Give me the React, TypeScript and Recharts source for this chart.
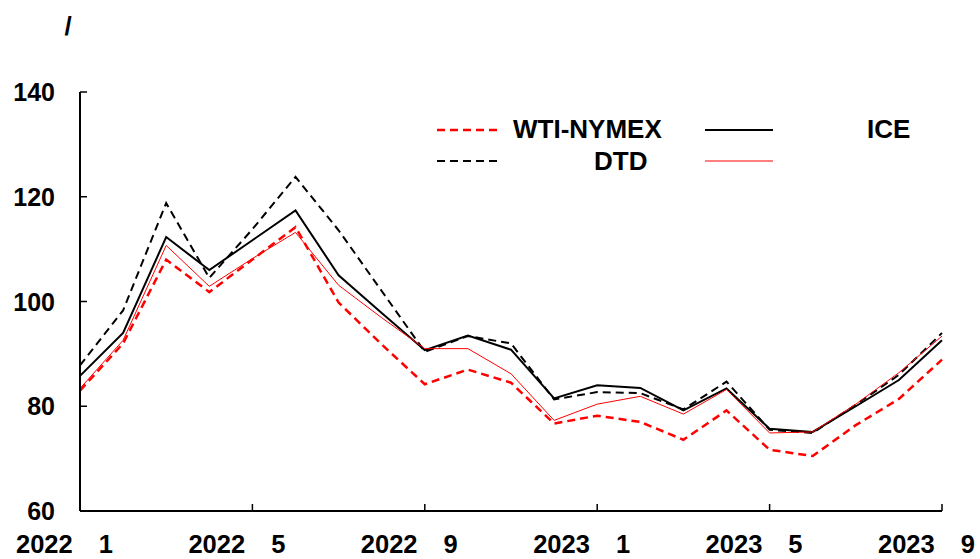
import { LineChart, Line, XAxis, YAxis } from 'recharts'

// month categories (2022-01 .. 2023-09)
const years = [2022, 2022, 2022, 2022, 2022, 2022, 2022, 2022, 2022, 2022, 2022, 2022, 2023, 2023, 2023, 2023, 2023, 2023, 2023, 2023, 2023]
const months = [1, 2, 3, 4, 5, 6, 7, 8, 9, 10, 11, 12, 1, 2, 3, 4, 5, 6, 7, 8, 9]

// monthly averages
const wti = [83.0, 92.0, 108.0, 101.8, 108.0, 114.2, 99.8, 91.8, 84.2, 87.0, 84.5, 76.7, 78.2, 77.0, 73.6, 79.2, 71.7, 70.5, 76.4, 81.4, 88.9]
const ice = [85.8, 94.0, 112.3, 106.0, 111.7, 117.4, 105.0, 97.8, 90.7, 93.5, 90.8, 81.5, 84.0, 83.5, 79.2, 83.4, 75.7, 75.1, 80.0, 85.0, 92.6]
const dtd = [87.8, 98.3, 118.8, 104.5, 113.8, 123.8, 113.6, 102.0, 90.4, 93.4, 92.0, 81.3, 82.7, 82.5, 79.4, 84.7, 75.5, 74.9, 80.3, 86.0, 94.0]
const other = [83.4, 92.6, 110.7, 102.9, 108.2, 113.2, 103.1, 96.9, 91.0, 91.0, 86.2, 77.3, 80.4, 81.9, 78.5, 83.2, 74.9, 75.1, 80.4, 86.4, 93.4]

const yTicks = [60, 80, 100, 120, 140]

const data = months.map((m, i) => ({
  key: `${years[i]}-${m}`,
  year: years[i],
  month: m,
  wti: wti[i],
  ice: ice[i],
  dtd: dtd[i],
  other: other[i],
}))

const FONT = '"Liberation Sans", Arial, sans-serif'
const PLOT_BOTTOM = 511
const PLOT_LEFT = 80

function XTick(props: any) {
  const { x, payload, index } = props
  const d = data[payload.index ?? index] || data.find((r) => r.key === payload.value)
  return (
    <g>
      <line x1={x} y1={PLOT_BOTTOM} x2={x} y2={PLOT_BOTTOM - 7} stroke="#000" strokeWidth={1.5} />
      <text x={x - 64} y={553} fontSize={25.5} fontWeight="bold" fontFamily={FONT} fill="#000">
        {d ? d.year : ''}
        <tspan dx={26}>{d ? d.month : ''}</tspan>
      </text>
    </g>
  )
}

function YTick(props: any) {
  const { y, payload } = props
  return (
    <g>
      <line x1={PLOT_LEFT} y1={y} x2={PLOT_LEFT + 7} y2={y} stroke="#000" strokeWidth={1.5} />
      <text x={55} y={y + 9} textAnchor="end" fontSize={25} fontWeight="bold" fontFamily={FONT} fill="#000">
        {payload.value}
      </text>
    </g>
  )
}

const legendText = { fontSize: 26, fontWeight: 'bold' as const, fontFamily: FONT, fill: '#000' }

export default function App() {
  return (
    <div style={{ position: 'absolute', left: 0, top: 0, width: 980, height: 559, background: '#fff' }}>
      <LineChart width={980} height={559} data={data} margin={{ top: 92, right: 38, left: 0, bottom: 0 }}>
        <XAxis
          dataKey="key"
          interval={3}
          height={48}
          axisLine={{ stroke: '#000', strokeWidth: 2 }}
          tickLine={false}
          tick={<XTick />}
        />
        <YAxis
          domain={[60, 140]}
          ticks={yTicks}
          width={80}
          axisLine={{ stroke: '#000', strokeWidth: 2 }}
          tickLine={false}
          tick={<YTick />}
        />
        <Line dataKey="dtd" stroke="#000" strokeWidth={2} strokeDasharray="8 5" dot={false} isAnimationActive={false} />
        <Line dataKey="wti" stroke="#ff0000" strokeWidth={2.5} strokeDasharray="8 5" dot={false} isAnimationActive={false} />
        <Line dataKey="ice" stroke="#000" strokeWidth={2} dot={false} isAnimationActive={false} />
        <Line dataKey="other" stroke="#ff0000" strokeWidth={1} dot={false} isAnimationActive={false} />
      </LineChart>
      <svg width={980} height={559} style={{ position: 'absolute', left: 0, top: 0, pointerEvents: 'none' }}>
        <text x={68} y={35} textAnchor="middle" {...legendText}>/</text>
        <line x1={437} y1={130} x2={498} y2={130} stroke="#ff0000" strokeWidth={2.5} strokeDasharray="8 5" />
        <text x={513} y={138} {...legendText}>WTI-NYMEX</text>
        <line x1={705} y1={130} x2={773} y2={130} stroke="#000" strokeWidth={2} />
        <text x={867} y={138} {...legendText}>ICE</text>
        <line x1={437} y1={161} x2={498} y2={161} stroke="#000" strokeWidth={2} strokeDasharray="8 5" />
        <text x={594} y={170} {...legendText}>DTD</text>
        <line x1={705} y1={161} x2={773} y2={161} stroke="#ff0000" strokeWidth={1} />
      </svg>
    </div>
  )
}
